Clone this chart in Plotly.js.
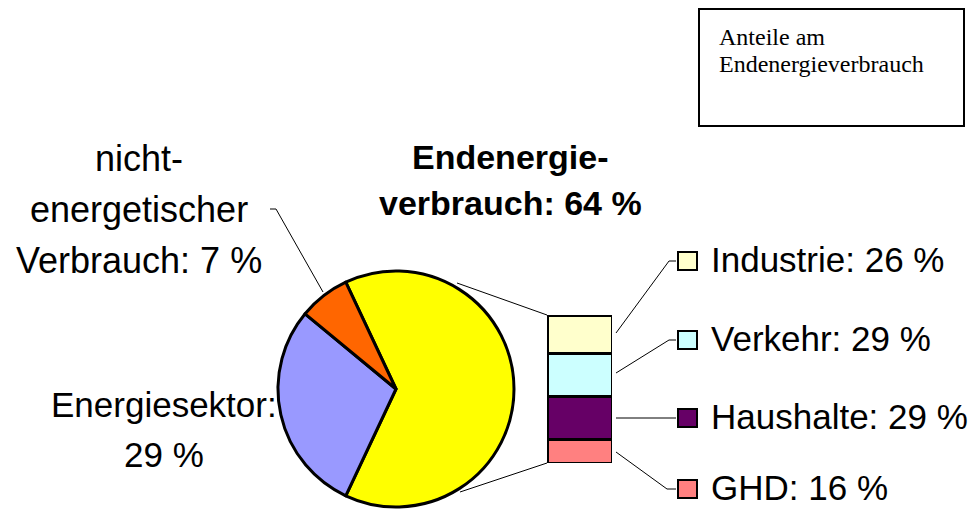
<!DOCTYPE html>
<html>
<head>
<meta charset="utf-8">
<script src="https://cdn.plot.ly/plotly-3.0.1.min.js"></script>
<style>html,body{margin:0;padding:0;background:#fff;}#chart{width:976px;height:510px;}</style>
</head>
<body>
<div id="chart"></div>
<script>
// ---- data ----
var pieLabels = ['Endenergieverbrauch', 'Energiesektor', 'nicht-energetischer Verbrauch'];
var pieValues = [64, 29, 7];
var pieLabelLines = [['Endenergie-', 'verbrauch:'], ['Energiesektor:', ''], ['nicht-', 'energetischer', 'Verbrauch:']];
var barLabels = ['Industrie', 'Verkehr', 'Haushalte', 'GHD'];
var barValues = [26, 29, 29, 16];
var boxLines = ['Anteile am', 'Endenergieverbrauch'];

// ---- styles ----
var pieColors = ['#FFFF00', '#9999FF', '#FF6600'];
var barColors = ['#FFFFCC', '#CCFFFF', '#660066', '#FF8080'];
var W = 976, H = 510;
function px(x) { return x / W; }
function py(y) { return 1 - y / H; }
var sans = 'Liberation Sans, Arial, sans-serif';
var serif = 'Liberation Serif, Times New Roman, serif';

var traces = [];
traces.push({
  type: 'pie', labels: pieLabels, values: pieValues, sort: false,
  direction: 'clockwise', rotation: -(pieValues[0] / 100 * 360) / 2 + 90,
  marker: { colors: pieColors, line: { color: '#000', width: 3 } },
  textinfo: 'none', hoverinfo: 'label+percent', showlegend: false,
  domain: { x: [px(278), px(514)], y: [py(507), py(271)] }
});
for (var i = barLabels.length - 1; i >= 0; i--) {
  traces.push({
    type: 'bar', x: [0], y: [barValues[i]], name: barLabels[i], width: [1],
    marker: { color: barColors[i], line: { color: '#000', width: 3 } },
    showlegend: false, hoverinfo: 'name+y', xaxis: 'x', yaxis: 'y'
  });
}

function labelText(lines, v) {
  var out = lines.slice();
  var last = out[out.length - 1];
  out[out.length - 1] = (last ? last + ' ' : '') + v + ' %';
  return out;
}

var annotations = [];
function addLines(lines, cx, cy0, step, size, bold) {
  lines.forEach(function (t, k) {
    annotations.push({
      xref: 'paper', yref: 'paper', x: px(cx), y: py(cy0 + k * step),
      xanchor: 'center', yanchor: 'middle', showarrow: false, text: t,
      font: { family: sans, size: size, color: '#000', weight: bold ? 'bold' : 'normal' }
    });
  });
}
// pie labels
addLines(labelText(pieLabelLines[0], pieValues[0]), 510, 157, 46, 34, true);
addLines(labelText(pieLabelLines[1], pieValues[1]), 164, 404, 50, 35, false);
addLines(labelText(pieLabelLines[2], pieValues[2]), 139, 158, 51, 36, false);

// bar labels
var barLabelY = [259, 338, 416, 487];
var shapes = [];
barLabels.forEach(function (lab, i) {
  annotations.push({
    xref: 'paper', yref: 'paper', x: px(710), y: py(barLabelY[i]),
    xanchor: 'left', yanchor: 'middle', showarrow: false, borderpad: 0,
    text: lab + ': ' + barValues[i] + ' %',
    font: { family: sans, size: 35, color: '#000' }
  });
  shapes.push({
    type: 'rect', xref: 'paper', yref: 'paper',
    x0: px(678), x1: px(697), y0: py(barLabelY[i] - 9 + 2), y1: py(barLabelY[i] + 9 + 2),
    fillcolor: barColors[i], line: { color: '#000', width: 2 }
  });
});

// text box
shapes.push({ type: 'rect', xref: 'paper', yref: 'paper', x0: px(699), x1: px(964), y0: py(9), y1: py(126),
  fillcolor: 'rgba(0,0,0,0)', line: { color: '#000', width: 2 } });
boxLines.forEach(function (t, k) {
  annotations.push({
    xref: 'paper', yref: 'paper', x: px(717), y: py(37 + k * 27),
    xanchor: 'left', yanchor: 'middle', showarrow: false, text: t,
    font: { family: serif, size: 24, color: '#000' }
  });
});

// connector lines
function seg(pts) {
  var d = 'M' + pts.map(function (p) { return px(p[0]) + ',' + py(p[1]); }).join(' L');
  shapes.push({ type: 'path', xref: 'paper', yref: 'paper', path: d, line: { color: '#000', width: 1 } });
}
seg([[457, 283], [547, 315]]);
seg([[460, 492], [547, 463]]);
seg([[270, 209], [276, 209], [323, 292]]);
seg([[616, 333], [669, 261], [676, 261]]);
seg([[616, 373], [669, 340], [676, 340]]);
seg([[616, 418], [676, 418]]);
seg([[616, 452], [667, 489], [676, 489]]);

var layout = {
  width: W, height: H, margin: { l: 0, r: 0, t: 0, b: 0 },
  paper_bgcolor: '#fff', plot_bgcolor: 'rgba(0,0,0,0)',
  barmode: 'stack', showlegend: false,
  xaxis: { domain: [px(547), px(612)], range: [-0.5, 0.5], visible: false, fixedrange: true },
  yaxis: { domain: [py(463), py(315)], range: [0, 100], visible: false, fixedrange: true },
  annotations: annotations, shapes: shapes
};
Plotly.newPlot('chart', traces, layout, { displayModeBar: false, staticPlot: true });
</script>
</body>
</html>
